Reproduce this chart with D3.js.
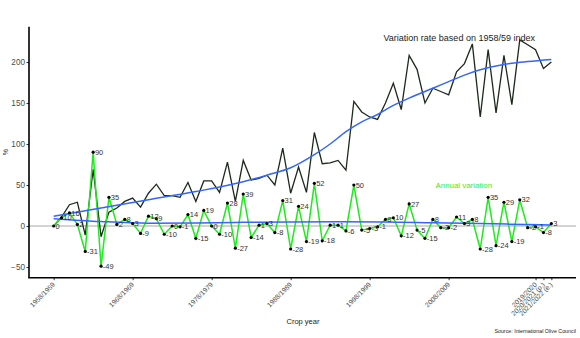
<!DOCTYPE html>
<html>
<head>
<meta charset="utf-8">
<script src="https://cdn.jsdelivr.net/npm/d3@7"></script>
<style>
  body { margin: 0; background: #fff; }
  svg { font-family: "Liberation Sans", Arial, sans-serif; }
</style>
</head>
<body>
<svg width="580" height="338"></svg>
<script>
// crop years 1958/1959 ... 2021/2022
const cropYears = d3.range(1958, 2022).map(y => y + '/' + (y + 1));

// annual variation (%)
const annualVar = [0, 10, 16, 2, -31, 90, -49, 35, 2, 8,
  3, -9, 12, 9, -10, 0, -1, 14, -15, 19,
  0, -10, 28, -27, 39, -14, 1, 3, -8, 31,
  -28, 24, -19, 52, -18, 1, 1, -6, 50, -5,
  -3, -1, 8, 10, -12, 27, -5, -15, 8, -2,
  -2, 11, 3, 8, -28, 35, -24, 29, -19, 32,
  -2, -1, -8, 3];

// variation rate based on 1958/59 index (%)
const indexVar = [0, 11, 26, 29, -11, 69, -13, 17, 22, 30,
  34, 23, 40, 51, 37, 37, 35, 53, 30, 55,
  55, 41, 78, 30, 80, 56, 58, 62, 50, 95,
  40, 72, 41, 114, 76, 77, 80, 68, 152, 139,
  133, 130, 150, 174, 142, 208, 191, 150, 168, 164,
  160, 188, 198, 222, 133, 215, 138, 208, 148, 227,
  221, 215, 192, 200];

// smoothed trends (blue), read at some crop-year positions
const trendPos = [0, 6, 12, 18, 24, 27, 30, 33, 35, 37, 39, 41, 43, 45, 48, 50, 52, 54, 56, 58, 60, 63];
const trendIndex = [12, 22, 32, 42, 54, 62, 71, 87, 100, 115, 127, 136, 147, 156, 168, 176, 184, 190.5, 195, 198.5, 200.5, 203];
const trendAnnPos = [0, 6, 12, 18, 24, 30, 36, 42, 48, 54, 60, 63];
const trendAnnual = [9, 5.5, 3.5, 3.8, 4.5, 5, 5.2, 5, 4, 3, 1.8, 1.2];

const yTicks = [-50, 0, 50, 100, 150, 200];
const xTickLabels = ['1958/1959', '1968/1969', '1978/1979', '1988/1989', '1998/1999',
  '2008/2009', '2019/2020', '2020/2021 (p.)', '2021/2022 (e.)'];
const xTickYears = ['1958/1959', '1968/1969', '1978/1979', '1988/1989', '1998/1999',
  '2008/2009', '2019/2020', '2020/2021', '2021/2022'];

const svg = d3.select('svg');
const pLeft = 29, pRight = 576, pTop = 26.7, pBottom = 277.7;

const x = d3.scalePoint().domain(cropYears).range([pLeft, pRight]).padding(3.12);
const xi = d3.scaleLinear().domain([0, cropYears.length - 1])
  .range([x(cropYears[0]), x(cropYears[cropYears.length - 1])]);
const y = d3.scaleLinear().domain([-63, 243]).range([pBottom, pTop]);

// zero line
svg.append('line')
  .attr('x1', pLeft).attr('x2', pRight)
  .attr('y1', y(0)).attr('y2', y(0))
  .attr('stroke', '#c4c4c4').attr('stroke-width', 1.6);

const line = d3.line().x((d, i) => x(cropYears[i])).y(d => y(d));

svg.append('path')
  .datum(indexVar)
  .attr('d', line)
  .attr('fill', 'none')
  .attr('stroke', '#1b2a1b')
  .attr('stroke-width', 1.3);

svg.append('path')
  .datum(annualVar)
  .attr('d', line)
  .attr('fill', 'none')
  .attr('stroke', '#1eea1e')
  .attr('stroke-width', 1.5);

const smooth = d3.line().curve(d3.curveMonotoneX).x(d => xi(d[0])).y(d => y(d[1]));

svg.append('path')
  .datum(d3.zip(trendPos, trendIndex))
  .attr('d', smooth)
  .attr('fill', 'none')
  .attr('stroke', '#3366ff')
  .attr('stroke-width', 1.5);

svg.append('path')
  .datum(d3.zip(trendAnnPos, trendAnnual))
  .attr('d', smooth)
  .attr('fill', 'none')
  .attr('stroke', '#3366ff')
  .attr('stroke-width', 1.5);

// points + labels
svg.selectAll('circle.pt')
  .data(annualVar)
  .enter().append('circle')
  .attr('class', 'pt')
  .attr('cx', (d, i) => x(cropYears[i]))
  .attr('cy', d => y(d))
  .attr('r', 1.6)
  .attr('fill', '#000');

svg.selectAll('text.lbl')
  .data(annualVar)
  .enter().append('text')
  .attr('class', 'lbl')
  .attr('x', (d, i) => x(cropYears[i]) + 1.8)
  .attr('y', d => y(d))
  .attr('dy', '0.35em')
  .attr('font-size', 7.5)
  .attr('fill', '#333')
  .text(d => d);

// axes
const yAxis = svg.append('g')
  .attr('transform', `translate(${pLeft},0)`)
  .call(d3.axisLeft(y).tickValues(yTicks).tickSize(2.5).tickPadding(1.5));
yAxis.select('.domain').remove();
yAxis.selectAll('text').attr('font-size', 8.2).attr('fill', '#4d4d4d').attr('font-family', null);
yAxis.selectAll('line').attr('stroke', '#333');

svg.append('line')
  .attr('x1', pLeft).attr('x2', pLeft)
  .attr('y1', pTop).attr('y2', pBottom)
  .attr('stroke', '#000').attr('stroke-width', 1.6);

const xAxis = svg.append('g')
  .attr('transform', `translate(0,${pBottom})`)
  .call(d3.axisBottom(x).tickValues(xTickYears).tickSize(2.5).tickFormat((d, i) => xTickLabels[i]));
xAxis.select('.domain').remove();
xAxis.selectAll('line').attr('stroke', '#333');
xAxis.selectAll('text')
  .attr('font-size', 6.8)
  .attr('fill', '#4d4d4d')
  .attr('font-family', null)
  .attr('text-anchor', 'end')
  .attr('dy', '0.7em')
  .attr('y', 0)
  .attr('transform', 'translate(-2,4) rotate(-45)');

svg.append('line')
  .attr('x1', pLeft - 0.8).attr('x2', pRight)
  .attr('y1', pBottom).attr('y2', pBottom)
  .attr('stroke', '#000').attr('stroke-width', 1.6);

// titles
svg.append('text')
  .attr('x', 303).attr('y', 323.5)
  .attr('text-anchor', 'middle')
  .attr('font-size', 7.5)
  .attr('fill', '#222')
  .text('Crop year');

svg.append('text')
  .attr('transform', `translate(8,${y(90)}) rotate(-90)`)
  .attr('text-anchor', 'middle')
  .attr('font-size', 7)
  .attr('fill', '#333')
  .text('%');

svg.append('text')
  .attr('x', pRight).attr('y', 333)
  .attr('text-anchor', 'end')
  .attr('font-size', 5.3)
  .attr('fill', '#222')
  .text('Source: International Olive Council');

svg.append('text')
  .attr('x', 383.5).attr('y', 40.5)
  .attr('font-size', 9)
  .attr('fill', '#222')
  .text('Variation rate based on 1958/59 index');

svg.append('text')
  .attr('x', 435.5).attr('y', 187.8)
  .attr('font-size', 7.9)
  .attr('fill', '#33ee33')
  .text('Annual variation');
</script>
</body>
</html>
